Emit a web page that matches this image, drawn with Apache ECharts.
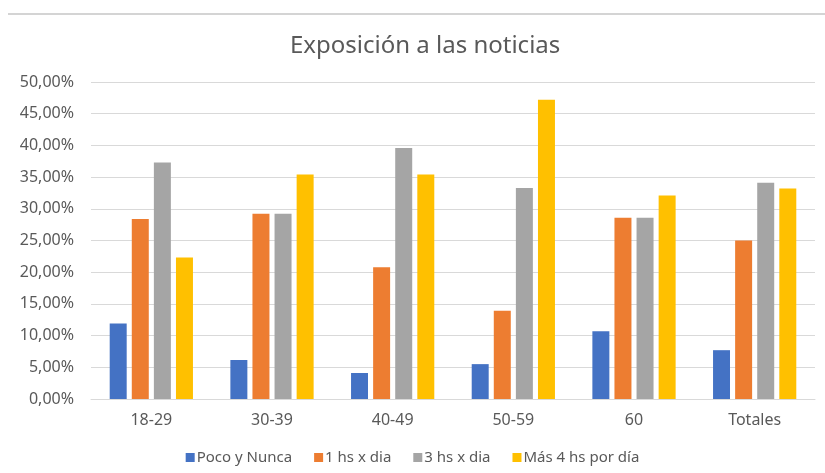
<!DOCTYPE html>
<html>
<head>
<meta charset="utf-8">
<script src="https://cdn.jsdelivr.net/npm/echarts@6/dist/echarts.min.js"></script>
<style>
  html, body { margin: 0; padding: 0; background: #fff; }
  #chart { width: 825px; height: 473px; }
</style>
</head>
<body>
<div id="chart"></div>
<script>
// Age groups on the x axis
const categories = ['18-29', '30-39', '40-49', '50-59', '60', 'Totales'];

// Share of respondents (%) per exposure level
const pocoYNunca = [11.9, 6.15, 4.1, 5.5, 10.7, 7.7];
const unaHora    = [28.4, 29.2, 20.8, 13.9, 28.6, 25.0];
const tresHoras  = [37.3, 29.2, 39.6, 33.3, 28.6, 34.1];
const masCuatro  = [22.3, 35.4, 35.4, 47.2, 32.1, 33.2];

const seriesNames = ['Poco y Nunca', '1 hs x dia', '3 hs x dia', 'Más 4 hs por día'];
const colors = ['#4472C4', '#ED7D31', '#A5A5A5', '#FFC000'];

const FONT = '"Noto Sans", "Open Sans", sans-serif';
const TEXT = '#595959';

const chart = echarts.init(document.getElementById('chart'), null, { renderer: 'canvas' });

const seriesData = [pocoYNunca, unaHora, tresHoras, masCuatro];

chart.setOption({
  animation: false,
  color: colors,
  textStyle: { fontFamily: FONT },
  title: {
    text: 'Exposición a las noticias',
    left: 285,
    top: 29,
    textStyle: { fontFamily: FONT, fontSize: 24, fontWeight: 'normal', color: TEXT }
  },
  graphic: [{
    type: 'line',
    shape: { x1: 8, y1: 14, x2: 825, y2: 14 },
    style: { stroke: '#d4d4d4', lineWidth: 2 }
  }],
  legend: {
    data: seriesNames,
    bottom: 3,
    left: 'center',
    itemWidth: 9,
    itemHeight: 9,
    itemGap: 22,
    icon: 'rect',
    textStyle: { fontFamily: FONT, fontSize: 15, color: TEXT, padding: [0, 0, 0, -3] }
  },
  grid: { left: 91, right: 10, top: 82, bottom: 74, containLabel: false },
  xAxis: {
    type: 'category',
    data: categories,
    axisLine: { lineStyle: { color: '#d9d9d9' } },
    axisTick: { show: false },
    axisLabel: { fontFamily: FONT, fontSize: 16, color: TEXT, margin: 13 }
  },
  yAxis: {
    type: 'value',
    min: 0,
    max: 50,
    interval: 5,
    axisLine: { show: false },
    axisTick: { show: false },
    splitLine: { lineStyle: { color: '#d9d9d9', width: 1 } },
    axisLabel: {
      fontFamily: FONT, fontSize: 16, color: TEXT, margin: 17,
      formatter: v => v.toFixed(2).replace('.', ',') + '%'
    }
  },
  series: seriesNames.map((name, i) => ({
    name,
    type: 'bar',
    data: seriesData[i],
    barGap: '30%',
    barCategoryGap: '31%',
    itemStyle: { color: colors[i] }
  }))
});
</script>
</body>
</html>
